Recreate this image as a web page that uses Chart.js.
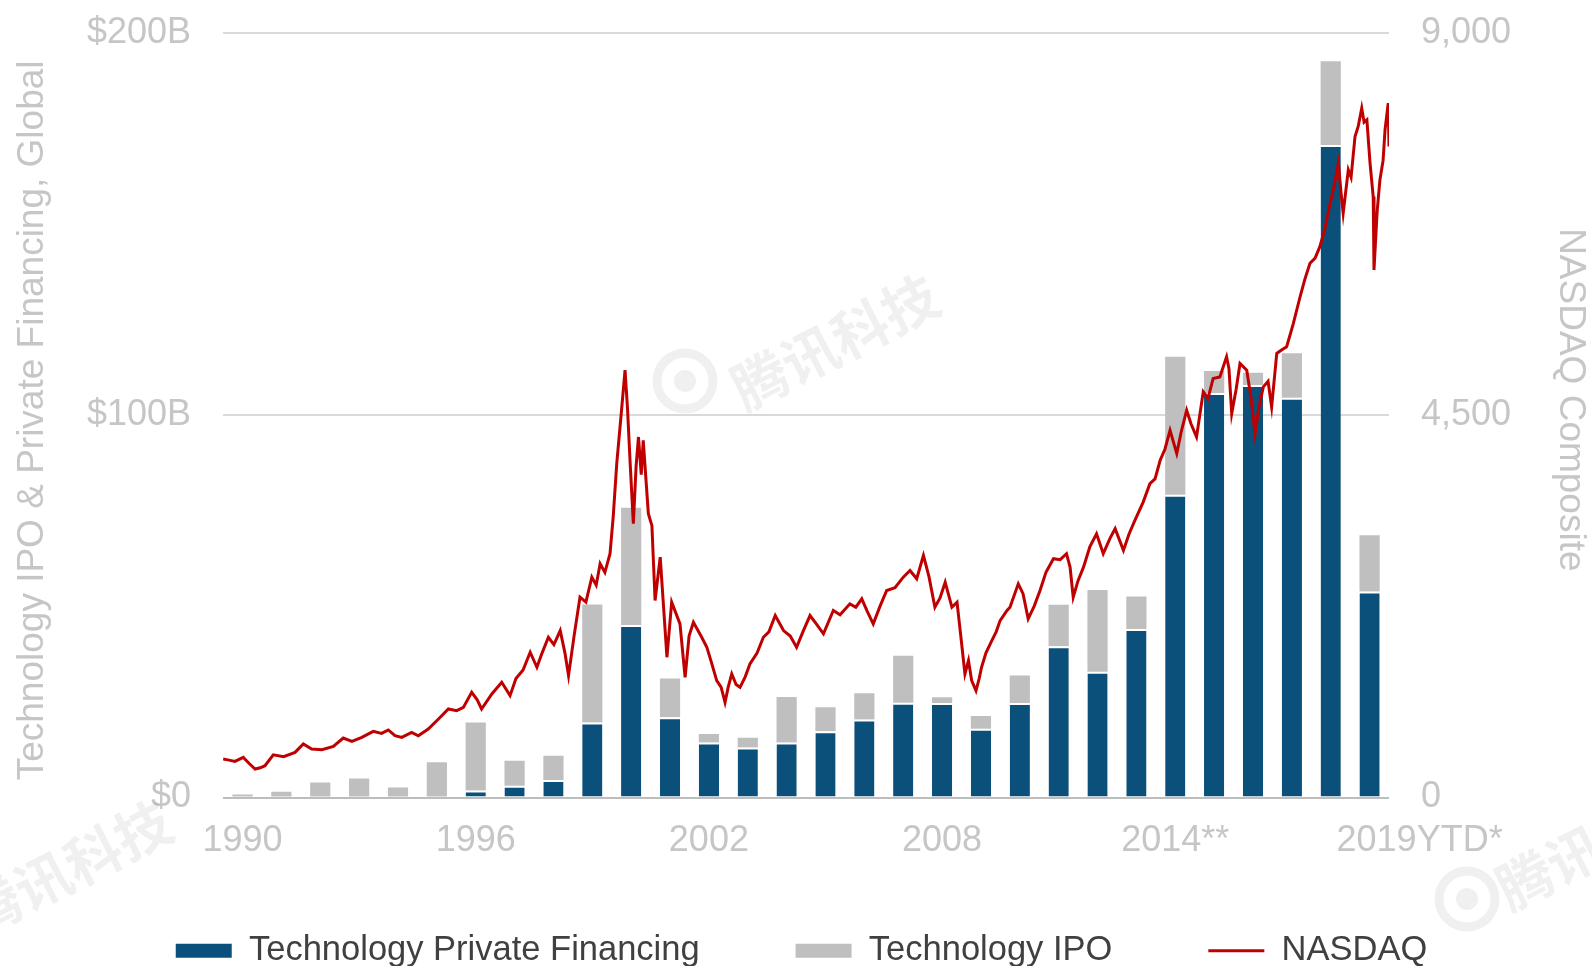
<!DOCTYPE html>
<html>
<head>
<meta charset="utf-8">
<title>Technology financing vs NASDAQ</title>
<script src="https://cdn.jsdelivr.net/npm/chart.js@4.4.1/dist/chart.umd.min.js"></script>
<style>
  html, body { margin: 0; padding: 0; background: #ffffff; }
  canvas { display: block; }
</style>
</head>
<body>
<canvas id="chart" width="1592" height="966"></canvas>
<script>
// Kategorien (Jahre) und sichtbare Achsenbeschriftungen
const years = ['1990', '1991', '1992', '1993', '1994', '1995', '1996', '1997', '1998', '1999',
               '2000', '2001', '2002', '2003', '2004', '2005', '2006', '2007', '2008', '2009',
               '2010', '2011', '2012', '2013', '2014', '2015', '2016', '2017', '2018', '2019'];
const xTickLabels = {0: '1990', 6: '1996', 12: '2002', 18: '2008', 24: '2014**', 29: '          2019YTD*'};
const leftTickLabels = ['$0', '$100B', '$200B'];
const rightTickLabels = ['0', '4,500', '9,000'];

// Balken in Mrd. USD
const privateFinancing = [0, 0, 0, 0, 0, 0, 1.8, 3.1, 4.6, 19.6,
                          45.1, 21.0, 14.4, 13.1, 14.4, 17.3, 20.4, 24.8, 24.7, 18.0,
                          24.7, 39.6, 32.9, 44.1, 79.2, 105.8, 107.9, 104.6, 170.7, 53.9];
const techIPO = [0.8, 1.5, 3.9, 5.0, 2.6, 9.2, 17.8, 6.5, 6.3, 30.9,
                 30.7, 10.1, 2.2, 2.5, 11.9, 6.3, 6.9, 12.3, 1.5, 3.3,
                 7.2, 10.8, 21.4, 8.5, 36.1, 5.8, 3.2, 11.6, 21.9, 14.7];

// NASDAQ Composite (Zeitpunkt in Jahren, Indexstand)
const nasdaqYears = [1990.00, 1990.15, 1990.30, 1990.51, 1990.66, 1990.81, 1990.94, 1991.06, 1991.27, 1991.53,
  1991.82, 1992.03, 1992.24, 1992.50, 1992.79, 1993.04, 1993.26, 1993.51, 1993.80, 1994.01,
  1994.18, 1994.35, 1994.52, 1994.77, 1994.94, 1995.19, 1995.45, 1995.70, 1995.91, 1996.08,
  1996.29, 1996.43, 1996.54, 1996.80, 1997.05, 1997.26, 1997.41, 1997.59, 1997.77, 1997.94,
  1998.07, 1998.23, 1998.37, 1998.53, 1998.65, 1998.74, 1998.88, 1999.03, 1999.18, 1999.33,
  1999.44, 1999.54, 1999.66, 1999.79, 1999.87, 1999.96, 2000.07, 2000.17, 2000.23, 2000.30,
  2000.38, 2000.45, 2000.51, 2000.58, 2000.63, 2000.76, 2000.85, 2000.93, 2001.06, 2001.23,
  2001.35, 2001.56, 2001.69, 2001.79, 2001.90, 2002.11, 2002.24, 2002.35, 2002.49, 2002.60,
  2002.70, 2002.78, 2002.87, 2002.98, 2003.08, 2003.21, 2003.33, 2003.51, 2003.67, 2003.81,
  2003.97, 2004.18, 2004.35, 2004.51, 2004.67, 2004.85, 2005.00, 2005.19, 2005.44, 2005.61,
  2005.86, 2006.01, 2006.16, 2006.29, 2006.45, 2006.62, 2006.79, 2007.00, 2007.21, 2007.38,
  2007.55, 2007.72, 2007.86, 2008.01, 2008.14, 2008.27, 2008.44, 2008.57, 2008.65, 2008.77,
  2008.86, 2008.94, 2009.05, 2009.13, 2009.19, 2009.30, 2009.45, 2009.56, 2009.66, 2009.83,
  2009.91, 2010.12, 2010.24, 2010.37, 2010.52, 2010.67, 2010.82, 2011.01, 2011.18, 2011.34,
  2011.43, 2011.51, 2011.63, 2011.77, 2011.93, 2012.10, 2012.27, 2012.44, 2012.57, 2012.78,
  2012.92, 2013.07, 2013.28, 2013.45, 2013.58, 2013.71, 2013.83, 2013.96, 2014.13, 2014.24,
  2014.38, 2014.49, 2014.63, 2014.80, 2014.92, 2015.05, 2015.22, 2015.39, 2015.45, 2015.52,
  2015.63, 2015.73, 2015.90, 2016.01, 2016.11, 2016.21, 2016.32, 2016.44, 2016.53, 2016.66,
  2016.78, 2016.91, 2017.08, 2017.25, 2017.37, 2017.50, 2017.63, 2017.75, 2017.88, 2018.01,
  2018.11, 2018.22, 2018.29, 2018.34, 2018.47, 2018.54, 2018.64, 2018.72, 2018.81, 2018.87,
  2018.94, 2019.02, 2019.10, 2019.12, 2019.20, 2019.27, 2019.35, 2019.40, 2019.48, 2019.50];
const nasdaqValues = [453, 440, 425, 472, 400, 335, 350, 374, 503, 480,
  531, 630, 571, 562, 601, 700, 660, 707, 778, 755,
  795, 727, 707, 766, 727, 806, 924, 1042, 1022, 1061,
  1238, 1150, 1042, 1219, 1356, 1199, 1400, 1500, 1710, 1533,
  1700, 1886, 1800, 1965, 1700, 1435, 1900, 2358, 2300, 2594,
  2500, 2752, 2650, 2870, 3300, 3931, 4500, 5031, 4600, 3931,
  3223, 3900, 4244, 3800, 4205, 3341, 3200, 2319, 2830, 1651,
  2299, 2044, 1415, 1900, 2063, 1886, 1769, 1600, 1376, 1300,
  1120, 1300, 1455, 1330, 1297, 1420, 1573, 1700, 1886, 1950,
  2142, 1965, 1900, 1769, 1950, 2142, 2050, 1927, 2201, 2150,
  2280, 2240, 2339, 2200, 2044, 2250, 2437, 2470, 2594, 2673,
  2575, 2850, 2600, 2240, 2350, 2535, 2240, 2300, 1965, 1455,
  1612, 1376, 1258, 1400, 1533, 1700, 1847, 1950, 2083, 2200,
  2240, 2516, 2400, 2103, 2250, 2437, 2650, 2811, 2800, 2870,
  2712, 2358, 2550, 2712, 2950, 3105, 2870, 3050, 3164, 2909,
  3100, 3262, 3478, 3695, 3750, 3970, 4100, 4323, 4049, 4300,
  4559, 4400, 4244, 4775, 4700, 4933, 4950, 5188, 5050, 4520,
  4800, 5110, 5031, 4700, 4284, 4600, 4834, 4900, 4598, 5228,
  5267, 5306, 5581, 5895, 6100, 6289, 6350, 6485, 6700, 6996,
  7200, 7468, 7100, 6878, 7389, 7300, 7782, 7900, 8116, 7950,
  7978, 7468, 7074, 6210, 6900, 7271, 7500, 7861, 8175, 7664];

const BLUE = '#0B4F7B';
const GREY = '#BFBFBF';
const RED = '#C00000';
const AXIS_TEXT = '#C6C6C6';
const FONT = '"Liberation Sans", Arial, sans-serif';

// Blasses Wasserzeichen (Quelle) wie im Original
const watermarkPlugin = {
    id: 'watermark',
    afterDraw(chart) {
        const c = chart.ctx;
        const marks = [
            {x: 835, y: 342, logo: {x: 685, y: 381}},
            {x: 68, y: 868, logo: null},
            {x: 1600, y: 842, logo: {x: 1467, y: 899}}
        ];
        c.save();
        c.fillStyle = 'rgba(0, 0, 0, 0.06)';
        c.strokeStyle = 'rgba(0, 0, 0, 0.06)';
        marks.forEach(m => {
            if (m.logo) {
                c.beginPath();
                c.lineWidth = 9;
                c.arc(m.logo.x, m.logo.y, 28, 0, Math.PI * 2);
                c.stroke();
                c.beginPath();
                c.arc(m.logo.x, m.logo.y, 11, 0, Math.PI * 2);
                c.fill();
            }
            c.save();
            c.translate(m.x, m.y);
            c.rotate(-27 * Math.PI / 180);
            c.font = 'bold 56px "Noto Sans CJK SC"';
            c.textAlign = 'center';
            c.textBaseline = 'middle';
            c.fillText('腾讯科技', 0, 0);
            c.restore();
        });
        c.restore();
    }
};

const ctx = document.getElementById('chart').getContext('2d');

new Chart(ctx, {
    type: 'bar',
    data: {
        labels: years,
        datasets: [
            {
                label: 'Technology Private Financing',
                data: privateFinancing,
                backgroundColor: BLUE,
                borderColor: '#FFFFFF',
                borderWidth: {top: 2, right: 0, bottom: 0, left: 0},
                borderSkipped: false,
                barPercentage: 0.52,
                categoryPercentage: 1.0,
                grouped: false,
                yAxisID: 'y',
                order: 2
            },
            {
                label: 'Technology IPO',
                data: techIPO,
                backgroundColor: GREY,
                borderWidth: 0,
                barPercentage: 0.52,
                categoryPercentage: 1.0,
                grouped: false,
                yAxisID: 'y',
                order: 2
            },
            {
                type: 'line',
                label: 'NASDAQ',
                data: nasdaqYears.map((t, i) => ({x: t, y: nasdaqValues[i]})),
                borderColor: RED,
                backgroundColor: RED,
                borderWidth: 3,
                pointRadius: 0,
                tension: 0,
                fill: false,
                xAxisID: 'xLine',
                yAxisID: 'y2',
                order: 1
            }
        ]
    },
    options: {
        responsive: false,
        animation: false,
        layout: {
            padding: {left: 11, right: 0, top: 33, bottom: -12}
        },
        scales: {
            x: {
                type: 'category',
                stacked: true,
                offset: true,
                grid: {display: false, drawTicks: false},
                border: {display: false},
                ticks: {
                    autoSkip: false,
                    maxRotation: 0,
                    minRotation: 0,
                    padding: 26,
                    color: AXIS_TEXT,
                    font: {family: FONT, size: 36, lineHeight: 1},
                    callback: (value, index) => xTickLabels[index] || ''
                }
            },
            xLine: {
                type: 'linear',
                display: false,
                min: 1990,
                max: 2019.5,
                offset: false
            },
            y: {
                position: 'left',
                stacked: true,
                min: 0,
                max: 200,
                grid: {
                    drawTicks: true,
                    tickLength: 32,
                    tickColor: 'rgba(0,0,0,0)',
                    lineWidth: 2,
                    color: c => c.tick && c.tick.value === 0 ? '#BDBDBD' : '#D9D9D9'
                },
                border: {display: false},
                ticks: {
                    stepSize: 100,
                    padding: 0,
                    color: AXIS_TEXT,
                    font: {family: FONT, size: 36},
                    callback: value => leftTickLabels[value / 100]
                },
                title: {
                    display: true,
                    text: 'Technology IPO & Private Financing, Global ',
                    color: AXIS_TEXT,
                    font: {family: FONT, size: 37, lineHeight: 1.2},
                    padding: {top: 0, bottom: 31.6}
                }
            },
            y2: {
                position: 'right',
                min: 0,
                max: 9000,
                grid: {
                    drawOnChartArea: false,
                    drawTicks: true,
                    tickLength: 32,
                    tickColor: 'rgba(0,0,0,0)',
                    color: 'rgba(0,0,0,0)'
                },
                border: {display: false},
                ticks: {
                    stepSize: 4500,
                    padding: 0,
                    color: AXIS_TEXT,
                    font: {family: FONT, size: 36},
                    callback: value => rightTickLabels[value / 4500]
                },
                title: {
                    display: true,
                    text: 'NASDAQ Composite   ',
                    color: AXIS_TEXT,
                    font: {family: FONT, size: 37, lineHeight: 1.2},
                    padding: {top: 0, bottom: 36.5}
                }
            }
        },
        plugins: {
            tooltip: {enabled: false},
            legend: {
                position: 'bottom',
                labels: {
                    usePointStyle: true,
                    pointStyleWidth: 56,
                    padding: 48,
                    color: '#404040',
                    font: {family: FONT, size: 34.5},
                    // Legende: breite Striche statt Kästchen, Abstand über Leerzeichen
                    generateLabels: chart => chart.data.datasets.map((ds, i) => ({
                        text: i < 2 ? ds.label + '     ' : ds.label,
                        fillStyle: i < 2 ? ds.backgroundColor : RED,
                        strokeStyle: i < 2 ? ds.backgroundColor : RED,
                        lineWidth: i < 2 ? 14 : 3,
                        pointStyle: 'line',
                        hidden: false,
                        datasetIndex: i,
                        fontColor: '#404040'
                    }))
                }
            }
        }
    },
    plugins: [watermarkPlugin]
});
</script>
</body>
</html>
